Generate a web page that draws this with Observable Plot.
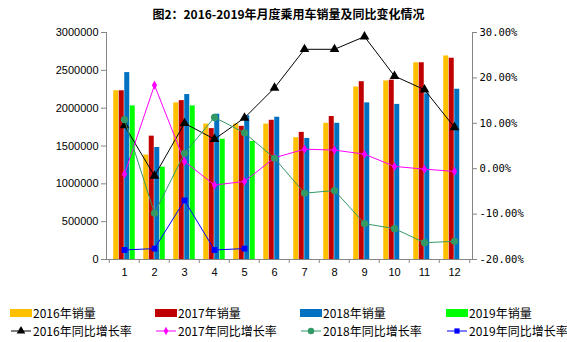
<!DOCTYPE html>
<html><head><meta charset="utf-8">
<script src="https://cdn.jsdelivr.net/npm/d3@7"></script>
<script src="https://cdn.jsdelivr.net/npm/@observablehq/plot@0.6"></script>
<style>
body{margin:0;background:#fff;}
#chart{position:relative;width:567px;height:342px;overflow:hidden;font-family:"Liberation Sans",Arial,sans-serif;background:#fff;}
#chart svg text{fill:#000;}
.layer{position:absolute;left:0;top:0;}
#title{position:absolute;top:6px;left:5px;width:567px;text-align:center;font:bold 12px/16px "Noto Sans CJK SC",sans-serif;color:#000;}
.leg{position:absolute;display:flex;align-items:center;height:12px;font:12px/12px "Noto Sans CJK SC",sans-serif;color:#000;white-space:nowrap;}
.sw{display:inline-block;width:22px;height:8px;margin-right:1px;}
</style></head>
<body><div id="chart"><div id="title">图2：2016-2019年月度乘用车销量及同比变化情况</div></div>
<script>
const months = [1,2,3,4,5,6,7,8,9,10,11,12];
const seriesYears = ["2016年","2017年","2018年","2019年"];
const sales2016 = [2230000,1380000,2070000,1790000,1790000,1790000,1610000,1800000,2280000,2360000,2600000,2690000];
const sales2017 = [2230000,1630000,2100000,1730000,1760000,1840000,1680000,1890000,2350000,2370000,2600000,2660000];
const sales2018 = [2470000,1480000,2180000,1920000,1900000,1880000,1600000,1800000,2070000,2050000,2190000,2250000];
const sales2019 = [2030000,1220000,2030000,1590000,1560000];
const growth2016 = [9.5,-1.6,10.0,6.5,11.2,17.8,26.3,26.3,29.1,20.4,17.4,9.1];
const growth2017 = [-1.2,18.4,1.6,-3.6,-2.8,2.4,4.3,4.1,3.2,0.5,-0.1,-0.6];
const growth2018 = [10.8,-9.8,3.4,11.3,7.9,2.3,-5.4,-4.8,-12.1,-13.2,-16.3,-16.0];
const growth2019 = [-17.9,-17.6,-7.0,-17.9,-17.6];
const leftTicks = [0,500000,1000000,1500000,2000000,2500000,3000000];
const rightTicks = [-20,-10,0,10,20,30];

const barColors = ["#FFC000","#C00000","#0070C0","#00FF00"];
const lineColors = ["#000000","#FF00FF","#339966","#0000FF"];
const lineSymbols = ["triangle","diamond","circle","square"];
const symbolR = [3.6,2.8,3.6,3.3];
const salesSeries = [sales2016,sales2017,sales2018,sales2019];
const growthSeries = [growth2016,growth2017,growth2018,growth2019];

const W = 567, H = 285, mL = 106, mR = 95, mT = 32, mB = 26;
const step = (W - mL - mR) / months.length;
const frameH = H - mT - mB;
const barW = 5.5;

const barMarks = salesSeries.map((vals, i) => Plot.barY(
  vals.map((v, j) => ({month: months[j], value: v})),
  {x: "month", y: "value", fill: barColors[i],
   insetLeft: step/2 - 2*barW + i*barW, insetRight: step/2 + 2*barW - (i+1)*barW}));

const p1 = Plot.plot({
  width: W, height: H, marginTop: mT, marginBottom: mB, marginLeft: mL, marginRight: mR,
  style: {background: "transparent", color: "#868686", fontSize: "11px", fontFamily: "Liberation Sans, Arial, sans-serif", overflow: "visible"},
  x: {type: "band", domain: months, padding: 0, tickSize: 0, tickPadding: 9, label: null},
  y: {domain: [0, 3000000], ticks: leftTicks, tickFormat: d => String(d), tickSize: 5, tickPadding: 3, label: null, line: true},
  marks: [...barMarks, Plot.ruleY([0], {stroke: "#868686"})]
});

const lineData = growthSeries.map(vals => vals.map((v, j) => ({month: months[j], value: v})));
const p2 = Plot.plot({
  width: W, height: H, marginTop: mT, marginBottom: mB, marginLeft: mL, marginRight: mR,
  style: {background: "transparent", color: "#868686", fontSize: "10.5px", fontFamily: "DejaVu Sans Mono, monospace", overflow: "visible"},
  x: {type: "point", domain: months, padding: 0.5, axis: null},
  y: {domain: [-20, 30], ticks: rightTicks, tickFormat: d => d.toFixed(2) + "%", axis: "right", tickSize: 4, tickPadding: 3, label: null, line: true},
  marks: [
    Plot.tickX(months, {x: d => d, dx: -step/2, insetTop: frameH, insetBottom: -4, stroke: "#868686"}),
    Plot.tickX(months.slice(-1), {x: d => d, dx: step/2, insetTop: frameH, insetBottom: -4, stroke: "#868686"}),
    ...lineData.flatMap((d, i) => [
      Plot.line(d, {x: "month", y: "value", stroke: lineColors[i], strokeWidth: 1}),
      Plot.dot(d, {x: "month", y: "value", symbol: () => lineSymbols[i], r: symbolR[i], fill: lineColors[i], stroke: "none"})
    ])
  ]
});

const chart = document.getElementById("chart");
p1.classList.add("layer"); p2.classList.add("layer");
chart.appendChild(p1); chart.appendChild(p2);

// legend
const colX = [10, 155, 300, 446];
seriesYears.forEach((yr, i) => {
  const a = document.createElement("div");
  a.className = "leg"; a.style.left = colX[i] + "px"; a.style.top = (313 - 6) + "px";
  a.innerHTML = `<span class="sw" style="background:${barColors[i]}"></span>${yr}销量`;
  chart.appendChild(a);
  const b = document.createElement("div");
  b.className = "leg"; b.style.left = colX[i] + "px"; b.style.top = (331 - 6) + "px";
  const sym = d3.symbol().type({triangle: d3.symbolTriangle, diamond: d3.symbolDiamond, circle: d3.symbolCircle, square: d3.symbolSquare}[lineSymbols[i]]).size(Math.PI * symbolR[i] * symbolR[i] * 0.8)();
  b.innerHTML = `<svg width="23" height="10" style="margin-right:0px"><line x1="1" x2="21" y1="5" y2="5" stroke="${lineColors[i]}" stroke-width="1"/><path d="${sym}" transform="translate(11,5)" fill="${lineColors[i]}"/></svg>${yr}同比增长率`;
  chart.appendChild(b);
});
</script></body></html>
